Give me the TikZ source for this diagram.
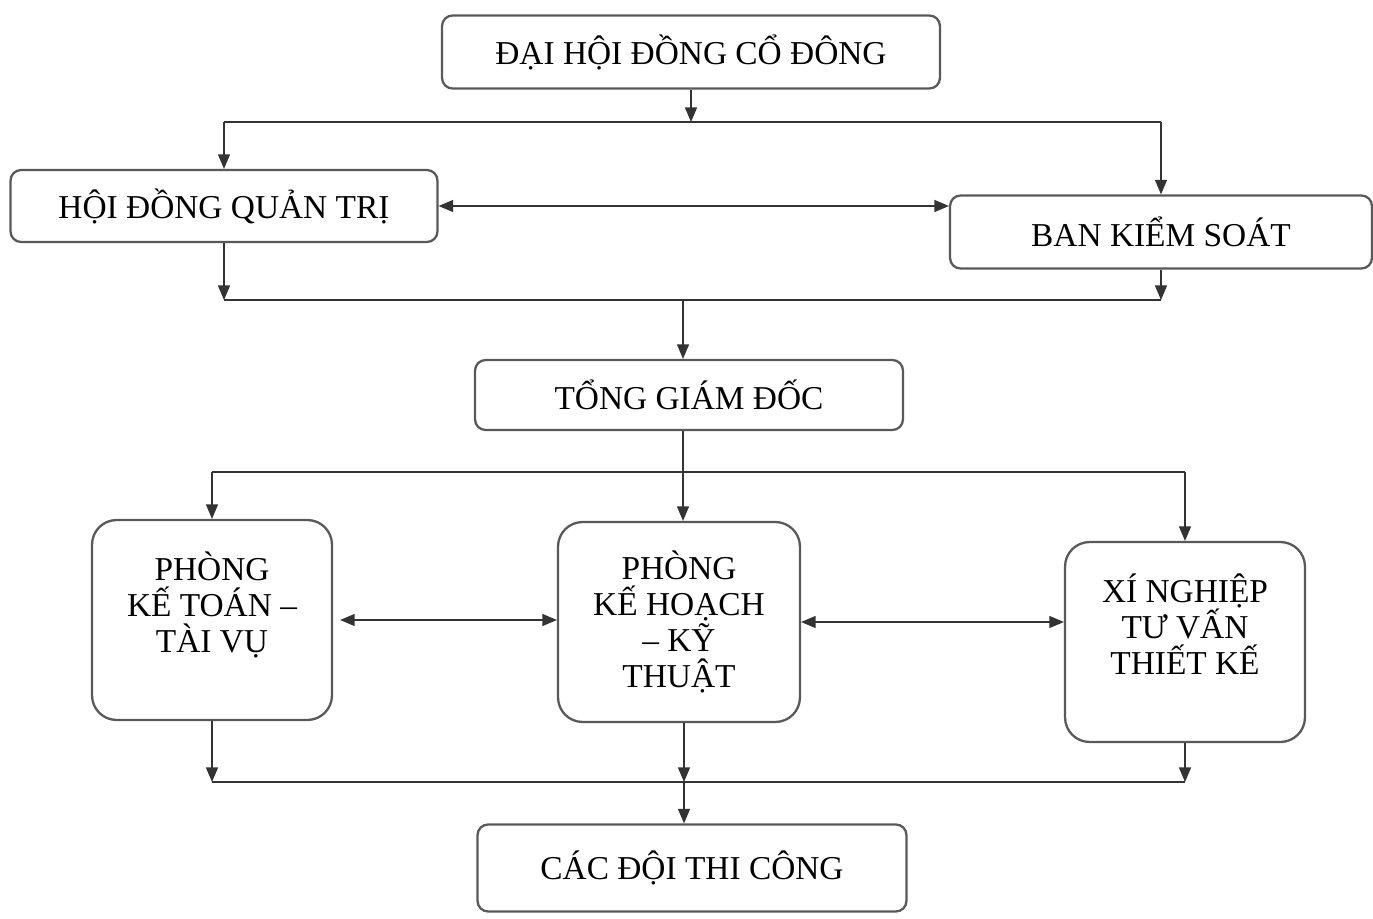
\documentclass[tikz,border=0pt]{standalone}
\usepackage{fontspec}
\setmainfont{Liberation Serif}
\usetikzlibrary{arrows}
\usetikzlibrary{positioning, calc}

\begin{document}
\begin{tikzpicture}[x=0.02cm, y=-0.02cm, >=triangle 45,
    box/.style={draw=gray!70!black, line width=1.3pt, rounded corners=6pt, align=center,
                inner sep=0pt, font=\fontsize{19}{20.5}\selectfont},
    bigbox/.style={box, rounded corners=14pt, minimum width=4.8cm, minimum height=4cm},
    link/.style={draw=black!80, line width=0.9pt}]
      \useasboundingbox (0, 0) rectangle (1373, 919);

      \node[box, minimum width=9.96cm, minimum height=1.46cm] (dhd) at (691, 52) {ĐẠI HỘI ĐỒNG CỔ ĐÔNG};
      \node[box, minimum width=8.54cm, minimum height=1.44cm] (hdqt) at (224, 206) {HỘI ĐỒNG QUẢN TRỊ};
      \node[box, minimum width=8.44cm, minimum height=1.46cm] (bks) at (1161, 232) {BAN KIỂM SOÁT};
      \node[box, minimum width=8.56cm, minimum height=1.40cm] (tgd) at (689, 395) {TỔNG GIÁM ĐỐC};

      \node[bigbox] (pkt) at (212, 620) {PHÒNG\\KẾ TOÁN –\\TÀI VỤ\\\mbox{}};
      \node[bigbox, minimum width=4.84cm] (pkh) at (679, 622) {PHÒNG\\KẾ HOẠCH\\– KỸ\\THUẬT};
      \node[bigbox] (xn) at (1185, 642) {XÍ NGHIỆP\\TƯ VẤN\\THIẾT KẾ\\\mbox{}};

      \node[box, minimum width=8.58cm, minimum height=1.74cm] (cdtc) at (692, 868) {CÁC ĐỘI THI CÔNG};

      % bus lines
      \coordinate (bus1) at (691, 122);
      \coordinate (bus2) at (683, 300);
      \coordinate (bus3) at (683, 472);
      \coordinate (bus4) at (684, 782);

      \draw[link, ->] (dhd.south) -- (bus1);
      \draw[link] (hdqt |- bus1) -- (bks |- bus1);
      \draw[link, ->] (hdqt |- bus1) -- (hdqt.north);
      \draw[link, ->] (bks |- bus1) -- (bks.north);
      \draw[link, <->] (hdqt.east) -- (hdqt.east -| bks.west);

      \draw[link, ->] (hdqt.south) -- (hdqt |- bus2);
      \draw[link, ->] (bks.south) -- (bks |- bus2);
      \draw[link] (hdqt |- bus2) -- (bks |- bus2);
      \draw[link, ->] (bus2) -- (bus2 |- tgd.north);

      \draw[link, ->] (tgd.south -| bus3) -- (bus3 |- pkh.north);
      \draw[link] (pkt |- bus3) -- (xn |- bus3);
      \draw[link, ->] (pkt |- bus3) -- (pkt.north);
      \draw[link, ->] (xn |- bus3) -- (xn.north);

      \draw[link, <->, shorten <=4pt] (pkt.east) -- (pkt.east -| pkh.west);
      \draw[link, <->] (pkh.east) -- (pkh.east -| xn.west);

      \draw[link, ->] (pkt.south) -- (pkt |- bus4);
      \draw[link, ->] (pkh.south -| bus4) -- (bus4);
      \draw[link, ->] (xn.south) -- (xn |- bus4);
      \draw[link] (pkt |- bus4) -- (xn |- bus4);
      \draw[link, ->] (bus4) -- (bus4 |- cdtc.north);
\end{tikzpicture}
\end{document}
